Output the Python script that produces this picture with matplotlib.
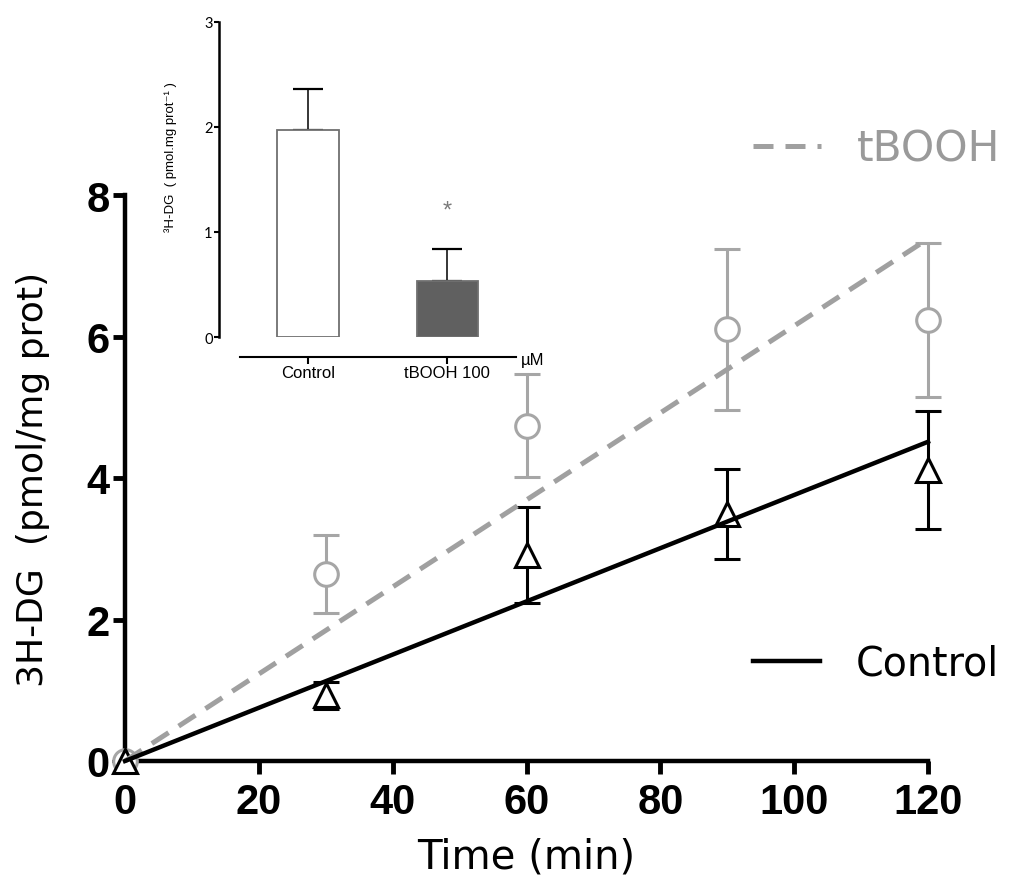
import numpy as np
import matplotlib
matplotlib.use("Agg")
import matplotlib.pyplot as plt

# main time course (mean +/- SEM)
time = [0, 30, 60, 90, 120]
ctrl_mean = [0, 0.93, 2.91, 3.49, 4.11]
ctrl_sem = [0, 0.19, 0.68, 0.64, 0.83]
tbooh_mean = [0, 2.64, 4.74, 6.10, 6.23]
tbooh_sem = [0, 0.55, 0.73, 1.14, 1.09]

# fitted slopes (through origin), pmol/mg prot per min
ctrl_slope = 0.0376
tbooh_slope = 0.0615

# inset bar chart
inset_groups = ["Control", "tBOOH 100"]
inset_mean = [1.97, 0.53]
inset_sem = [0.39, 0.31]

W, H = 1013, 879
GRAY = "#a6a6a6"

fig = plt.figure(figsize=(W / 100, H / 100), dpi=100)

# ---- main axes
ax = fig.add_axes([125 / W, 1 - 762 / H, (928 - 125) / W, (762 - 196) / H])
ax.set_xlim(0, 120)
ax.set_ylim(0, 8)

t = np.array(time)
x_fit = np.array([t[0], t[-1]])

ax.errorbar(t, tbooh_mean, yerr=tbooh_sem, fmt="none", ecolor=GRAY,
            elinewidth=2.2, capsize=9.5, capthick=2.2, zorder=2, clip_on=False)
ax.errorbar(t, ctrl_mean, yerr=ctrl_sem, fmt="none", ecolor="black",
            elinewidth=2.2, capsize=9.5, capthick=2.2, zorder=2, clip_on=False)
ax.plot(t, tbooh_mean, "o", ms=17, mfc="white", mec=GRAY, mew=2.2,
        zorder=3, clip_on=False)
ax.plot(t, ctrl_mean, "^", ms=17, mfc="white", mec="black", mew=2.2,
        zorder=3, clip_on=False)

l_tb, = ax.plot(x_fit, tbooh_slope * x_fit, color="#a0a0a0", lw=3.6,
                ls=(0, (4, 2.4)), zorder=4, clip_on=False, label="tBOOH")
l_ct, = ax.plot(x_fit, ctrl_slope * x_fit, color="black", lw=3.2,
                zorder=4, clip_on=False, label="Control")

for s in ["top", "right"]:
    ax.spines[s].set_visible(False)
for s in ["left", "bottom"]:
    ax.spines[s].set_linewidth(3.2)

ax.set_xticks(np.arange(0, 121, 20))
ax.set_yticks(np.arange(0, 9, 2))
ax.tick_params(axis="both", direction="out", length=9, width=3.5, labelsize=30)
ax.tick_params(axis="x", pad=6)
ax.tick_params(axis="y", pad=2)
for lab in ax.get_xticklabels() + ax.get_yticklabels():
    lab.set_fontfamily("Liberation Sans")
    lab.set_fontweight("bold")

ax.set_xlabel("Time (min)", fontsize=29, fontfamily="DejaVu Sans", va="center")
ax.xaxis.set_label_coords(0.5, (762 - 858) / 566)
ax.set_ylabel("3H-DG  (pmol/mg prot)", fontsize=26, fontfamily="DejaVu Sans",
              va="center")
ax.yaxis.set_label_coords((33.5 - 125) / 803, 0.5)

leg1 = fig.legend(handles=[l_tb], loc="center left",
                  bbox_to_anchor=(753 / W, 1 - 150 / H), frameon=False,
                  handlelength=1.6, handletextpad=0.85,
                  borderpad=0, borderaxespad=0, labelcolor="#9a9a9a",
                  prop={"family": "DejaVu Sans", "size": 30.5})
leg2 = fig.legend(handles=[l_ct], loc="center left",
                  bbox_to_anchor=(753 / W, 1 - 665 / H), frameon=False,
                  handlelength=1.7, handletextpad=0.9,
                  borderpad=0, borderaxespad=0,
                  prop={"family": "DejaVu Sans", "size": 28.5})

# ---- inset
axi = fig.add_axes([219 / W, 1 - 338 / H, (516.3 - 219) / W, (338 - 22.5) / H])
axi.patch.set_visible(False)
axi.set_xlim(-0.64, 1.495)
axi.set_ylim(0, 3)
xi = np.arange(len(inset_groups))
axi.bar(xi, inset_mean, width=0.443, color=["white", "#606060"],
        edgecolor="#707070", linewidth=1.3, zorder=2)
axi.errorbar(xi, inset_mean, yerr=[np.zeros(len(xi)), inset_sem], fmt="none",
             ecolor="black", elinewidth=1.1, capsize=11, capthick=1.6, zorder=1)
axi.text(xi[1], inset_mean[1] + inset_sem[1] + 0.36, "*", ha="center",
         va="center", fontsize=17, color="#7a7a7a", fontfamily="Liberation Sans")

axi.spines["top"].set_visible(False)
axi.spines["right"].set_visible(False)
axi.spines["left"].set_linewidth(1.8)
axi.spines["left"].set_bounds(0, 3)
axi.spines["bottom"].set_linewidth(1.5)
axi.spines["bottom"].set_position(("outward", 14.4))
axi.spines["bottom"].set_bounds(-0.49, 1.495)

axi.set_yticks([0, 1, 2, 3])
axi.tick_params(axis="y", direction="out", length=3.6, width=1.5, pad=1,
                labelsize=10.5)
for lab in axi.get_yticklabels():
    lab.set_fontfamily("Lato")
axi.set_xticks(xi)
axi.set_xticklabels(inset_groups, fontsize=12, fontfamily="Liberation Sans")
axi.tick_params(axis="x", direction="out", length=5, width=1.5, pad=1)

axi.set_ylabel("³H-DG  ( pmol.mg prot⁻¹ )", fontsize=9.5,
               fontfamily=["Liberation Sans", "DejaVu Sans"], va="center")
axi.yaxis.set_label_coords((171 - 219) / (516.3 - 219), 0.574)
axi.text(1.53, -0.21, "µM", transform=axi.transData, ha="left", va="center",
         fontsize=12, fontfamily="Liberation Sans", clip_on=False)

fig.savefig("out.png", dpi=100)
